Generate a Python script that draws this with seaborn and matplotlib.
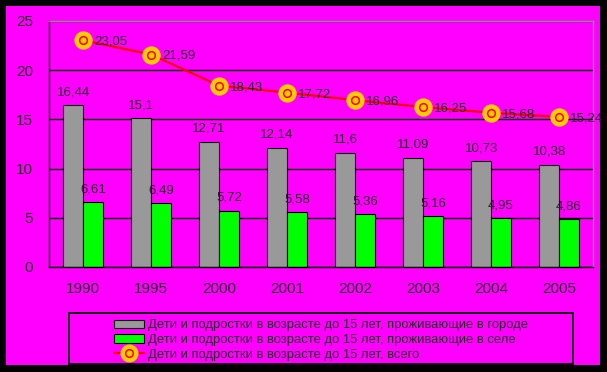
import pandas as pd
import matplotlib
matplotlib.use("Agg")
import matplotlib.pyplot as plt
from matplotlib.patches import Rectangle, Patch
from matplotlib.lines import Line2D
import seaborn as sns

# data
years = ["1990", "1995", "2000", "2001", "2002", "2003", "2004", "2005"]
city = [16.44, 15.1, 12.71, 12.14, 11.6, 11.09, 10.73, 10.38]
village = [6.61, 6.49, 5.72, 5.58, 5.36, 5.16, 4.95, 4.86]
total = [23.05, 21.59, 18.43, 17.72, 16.96, 16.25, 15.68, 15.24]
y_ticks = [0, 5, 10, 15, 20, 25]

lbl_city = "Дети и подростки в возрасте до 15 лет, проживающие в городе"
lbl_village = "Дети и подростки в возрасте до 15 лет, проживающие в селе"
lbl_total = "Дети и подростки в возрасте до 15 лет, всего"

MAGENTA = "#FF00FF"
GRAY = "#999999"
GREEN = "#00FF00"
GOLD = "#FFCC00"


def ru(v):
    return f"{v:g}".replace(".", ",")


sns.set_style("white")
plt.rcParams["font.family"] = ["Liberation Sans", "DejaVu Sans"]

df_bars = pd.DataFrame({
    "year": years * 2,
    "value": city + village,
    "group": [lbl_city] * len(years) + [lbl_village] * len(years),
})
df_total = pd.DataFrame({"year": years, "total": total})

fig = plt.figure(figsize=(6.07, 3.72), dpi=100, facecolor="black")
fig.patches.append(Rectangle((6 / 607, 7 / 372), 594 / 607, 359 / 372,
                             transform=fig.transFigure, facecolor=MAGENTA,
                             edgecolor="none", zorder=-5))
ax = fig.add_axes([49 / 607, 105 / 372, 544 / 607, 246 / 372])
ax.set_zorder(1)
ax.set_facecolor(MAGENTA)

sns.barplot(data=df_bars, x="year", y="value", hue="group", order=years,
            palette=[GRAY, GREEN], width=0.58, saturation=1,
            edgecolor="black", linewidth=0.8, legend=False, ax=ax, zorder=2)

for cont, vals in zip(ax.containers, [city, village]):
    ax.bar_label(cont, labels=[ru(v) for v in vals], padding=5, fontsize=9.5)

# total line: gold disc with a red ring
sns.pointplot(data=df_total, x="year", y="total", order=years, color="red",
              markers="o", linestyles="-", linewidth=1.6, markersize=12,
              markerfacecolor=GOLD, markeredgecolor=GOLD, errorbar=None,
              ax=ax, zorder=4)
sns.pointplot(data=df_total, x="year", y="total", order=years, color="red",
              markers="o", linestyles="none", markersize=5.5,
              markerfacecolor=GOLD, markeredgecolor="red",
              markeredgewidth=1.1, errorbar=None, ax=ax, zorder=5)

for i, v in enumerate(total):
    ax.annotate(ru(v), (i, v), xytext=(8, -1), textcoords="offset points",
                ha="left", va="center", fontsize=9.5, zorder=6,
                annotation_clip=False)

ax.set_ylim(0, 25)
ax.set_xlim(-0.5, len(years) - 0.5)
ax.set_yticks(y_ticks)
ax.set_yticklabels([str(t) for t in y_ticks])
ax.set_xlabel("")
ax.set_ylabel("")
ax.set_axisbelow(True)
ax.grid(axis="y", color="black", linewidth=1)
ax.grid(axis="x", visible=False)

ax.set_xticks([i - 0.5 for i in range(len(years) + 1)], minor=True)
ax.tick_params(axis="x", which="major", length=0, pad=11, labelsize=11)
ax.tick_params(axis="x", which="minor", length=5, width=1, color="black",
               direction="out")
ax.tick_params(axis="y", length=5, width=1, color="black", direction="out",
               pad=6.5, labelsize=11)

for side in ["left", "bottom"]:
    ax.spines[side].set_color("black")
    ax.spines[side].set_linewidth(1)
for side in ["top", "right"]:
    ax.spines[side].set_visible(True)
    ax.spines[side].set_color("#8C8C8C")
    ax.spines[side].set_linewidth(1)

# legend box
fig.patches.append(Rectangle((69 / 607, 8 / 372), 504 / 607, 51 / 372,
                             transform=fig.transFigure, facecolor="none",
                             edgecolor="black", linewidth=1.3, zorder=3))
h_line = Line2D([], [], color="red", linewidth=1.6, marker="o",
                markersize=12, markerfacecolor=GOLD, markeredgecolor=GOLD)
h_ring = Line2D([], [], linestyle="none", marker="o", markersize=5.5,
                markerfacecolor=GOLD, markeredgecolor="red",
                markeredgewidth=1.1)
handles = [Patch(facecolor=GRAY, edgecolor="black", linewidth=0.8),
           Patch(facecolor=GREEN, edgecolor="black", linewidth=0.8),
           (h_line, h_ring)]
fig.legend(handles, [lbl_city, lbl_village, lbl_total], loc="center",
           bbox_to_anchor=(321 / 607, 32 / 372), frameon=False, fontsize=9.4,
           handlelength=2.3, handleheight=0.6, handletextpad=0.3,
           labelspacing=0.2, borderpad=0)

fig.savefig("out.png", dpi=100, facecolor="black")
